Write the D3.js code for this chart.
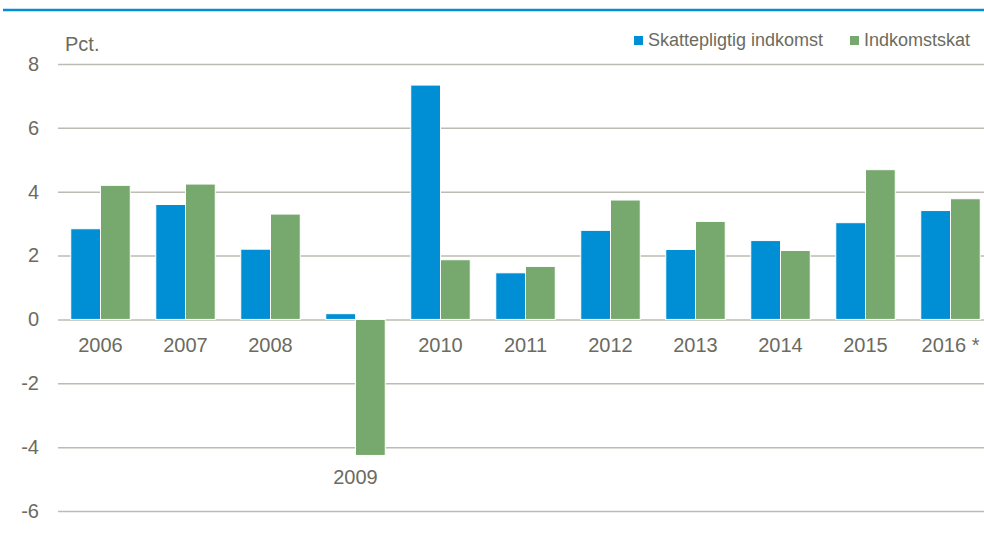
<!DOCTYPE html>
<html>
<head>
<meta charset="utf-8">
<script src="https://cdn.jsdelivr.net/npm/d3@7"></script>
<style>
  body { margin: 0; background: #fff; }
  svg text { font-family: "Liberation Sans Narrow", "Arial Narrow", "Liberation Sans", Arial, sans-serif; fill: #6b6b5f; }
</style>
</head>
<body>
<svg id="chart" width="984" height="544"></svg>
<script>
// data
const years = ["2006", "2007", "2008", "2009", "2010", "2011", "2012", "2013", "2014", "2015", "2016 *"];
const skattepligtig = [2.84, 3.6, 2.2, 0.18, 7.34, 1.46, 2.79, 2.19, 2.47, 3.03, 3.41];
const indkomstskat = [4.2, 4.24, 3.3, -4.26, 1.87, 1.66, 3.74, 3.07, 2.16, 4.69, 3.78];
const seriesNames = ["Skattepligtig indkomst", "Indkomstskat"];
const yTicks = [-6, -4, -2, 0, 2, 4, 6, 8];

const svg = d3.select("#chart"),
    width = +svg.attr("width"),
    height = +svg.attr("height");

const color = d3.scaleOrdinal()
    .domain(seriesNames)
    .range(["#008fd4", "#77a96f"]);

const rows = years.map((yr, i) => ({
    year: yr,
    values: [skattepligtig[i], indkomstskat[i]]
}));

// plot area runs a little past the right edge, like the original crop
const x0 = d3.scaleBand()
    .domain(years)
    .range([58, 993])
    .paddingInner(0.3)
    .paddingOuter(0.15);

const x1 = d3.scaleBand()
    .domain(seriesNames)
    .range([0, x0.bandwidth()]);

const y = d3.scaleLinear()
    .domain([-6, 8])
    .range([511, 64]);

// blue rule at the top
svg.append("line")
    .attr("x1", 3).attr("x2", width)
    .attr("y1", 10).attr("y2", 10)
    .attr("stroke", "#008fd4")
    .attr("stroke-width", 2.5);

// y axis + gridlines
const yAxis = svg.append("g")
    .attr("transform", "translate(58,0)")
    .call(d3.axisLeft(y).tickValues(yTicks).tickSize(-(width - 58)).tickPadding(19).tickFormat(d => String(d)));
yAxis.select(".domain").remove();
yAxis.selectAll(".tick line")
    .attr("stroke", "#bebcb2")
    .attr("stroke-width", 1.5);
yAxis.selectAll(".tick text")
    .style("font-size", "20px");

// bars
const groups = svg.append("g")
    .selectAll("g")
    .data(rows)
    .join("g")
    .attr("transform", d => `translate(${x0(d.year)},0)`);

groups.selectAll("rect")
    .data(d => d.values.map((v, i) => ({ key: seriesNames[i], value: v })))
    .join("rect")
    .attr("x", d => x1(d.key))
    .attr("width", x1.bandwidth())
    .attr("y", d => y(Math.max(0, d.value)))
    .attr("height", d => Math.abs(y(d.value) - y(0)))
    .attr("fill", d => color(d.key))
    .attr("stroke", "#fff")
    .attr("stroke-width", 1);

// category labels: below zero, or below the bar if it goes negative
const xAxis = svg.append("g")
    .call(d3.axisBottom(x0).tickSize(0).tickPadding(0));
xAxis.select(".domain").remove();
xAxis.selectAll(".tick")
    .attr("transform", (d, i) => {
        const low = Math.min(0, ...rows[i].values);
        return `translate(${x0(d) + x0.bandwidth() / 2},${y(low) + (low < 0 ? 29 : 33)})`;
    });
xAxis.selectAll(".tick text")
    .attr("dy", 0)
    .attr("y", 0)
    .style("font-size", "20px");

// unit label
svg.append("text")
    .attr("x", 65)
    .attr("y", 51)
    .text("Pct.")
    .style("font-size", "20px");

// legend
const legendX = [634, 850];
seriesNames.forEach((key, i) => {
    const g = svg.append("g")
        .attr("transform", `translate(${legendX[i]},36)`);
    g.append("rect")
        .attr("width", 9)
        .attr("height", 9)
        .attr("fill", color(key));
    g.append("text")
        .attr("x", 14)
        .attr("y", 10)
        .text(key)
        .style("font-size", "18px");
});
</script>
</body>
</html>
